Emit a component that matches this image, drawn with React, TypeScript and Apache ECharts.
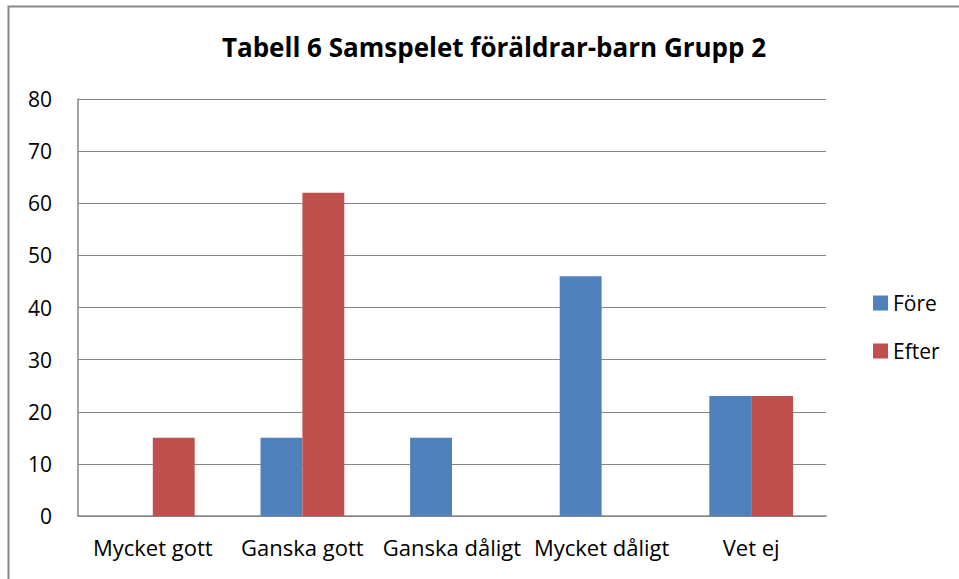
import React, { useEffect, useRef } from "react";
import * as echarts from "echarts";

const categories = ["Mycket gott", "Ganska gott", "Ganska dåligt", "Mycket dåligt", "Vet ej"];
const foreValues = [0, 15, 15, 46, 23];
const efterValues = [15, 62, 0, 0, 23];
const seriesNames = ["Före", "Efter"];
const titleText = "Tabell 6 Samspelet föräldrar-barn Grupp 2";

const FONT = "'Open Sans', Lato, sans-serif";

export default function App() {
  const ref = useRef<HTMLDivElement>(null);
  useEffect(() => {
    document.body.style.margin = "0";
    const chart = echarts.init(ref.current!, null, { renderer: "svg" });
    chart.setOption({
      animation: false,
      backgroundColor: "#ffffff",
      title: {
        text: titleText,
        left: 489,
        top: 29,
        textAlign: "center",
        textStyle: { fontFamily: FONT, fontWeight: "bold", fontSize: 26, color: "#000" },
      },
      graphic: [
        {
          type: "rect",
          shape: { x: 8.5, y: 6.5, width: 1000, height: 700 },
          style: { fill: "none", stroke: "#888888", lineWidth: 2 },
          silent: true,
        },
      ],
      legend: {
        orient: "vertical",
        left: 868,
        top: 286,
        itemWidth: 15,
        itemHeight: 15,
        itemGap: 24,
        icon: "rect",
        textStyle: { fontFamily: FONT, fontSize: 21, lineHeight: 24, color: "#000", padding: [0, 0, 0, 0] },
        data: seriesNames,
      },
      grid: { left: 78, right: 133, top: 99, bottom: 63, containLabel: false },
      xAxis: {
        type: "category",
        data: categories,
        axisLine: { lineStyle: { color: "#868686", width: 1.5 } },
        axisTick: { show: false },
        axisLabel: { fontFamily: FONT, fontSize: 22, color: "#000", margin: 20, interval: 0 },
      },
      yAxis: {
        type: "value",
        min: 0,
        max: 80,
        interval: 10,
        axisLine: { show: true, lineStyle: { color: "#868686", width: 1.5 } },
        axisTick: { show: false },
        splitLine: { lineStyle: { color: "#868686", width: 1.2 } },
        axisLabel: { fontFamily: FONT, fontSize: 21, color: "#000", margin: 26 },
      },
      series: [
        {
          name: seriesNames[0],
          type: "bar",
          data: foreValues,
          itemStyle: { color: "#4F81BD" },
          barGap: "0%",
          barCategoryGap: "44%",
        },
        {
          name: seriesNames[1],
          type: "bar",
          data: efterValues,
          itemStyle: { color: "#C0504D" },
          barGap: "0%",
          barCategoryGap: "44%",
        },
      ],
    });
    return () => chart.dispose();
  }, []);
  return <div ref={ref} style={{ width: 959, height: 579, position: "absolute", left: 0, top: 0 }} />;
}
